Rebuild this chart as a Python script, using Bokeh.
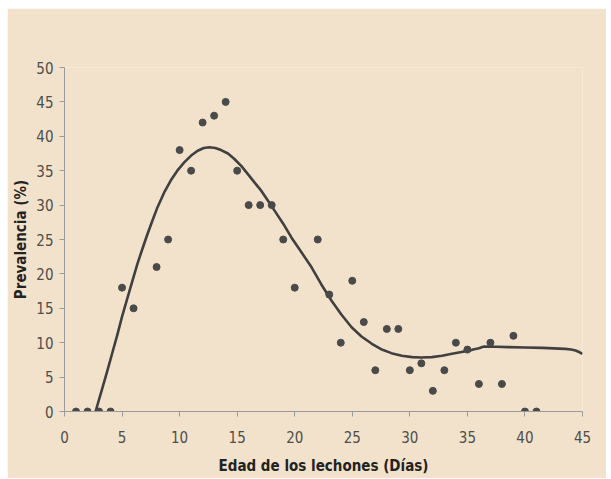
from bokeh.plotting import figure
from bokeh.embed import file_html
from bokeh.resources import INLINE
from bokeh.models import Range1d, FixedTicker

# Observed prevalence by piglet age
edad = [1, 2, 3, 4, 5, 6, 8, 9, 10, 11, 12, 13, 14, 15, 16, 17, 18, 19, 20,
        22, 23, 24, 25, 26, 27, 28, 29, 30, 31, 32, 33, 34, 35, 36, 37, 38, 39, 40, 41]
prevalencia = [0, 0, 0, 0, 18, 15, 21, 25, 38, 35, 42, 43, 45, 35, 30, 30, 30, 25, 18,
               25, 17, 10, 19, 13, 6, 12, 12, 6, 7, 3, 6, 10, 9, 4, 10, 4, 11, 0, 0]

# Trend curve
curva_x = [2.7, 3.2, 3.72, 4.15, 4.6, 5.0, 5.47, 5.9, 6.34, 6.8, 7.21, 7.65, 8.08, 8.65,
           9.24, 9.8, 10.4, 11.0, 11.57, 12.1, 12.58, 13.1, 13.6, 14.2, 14.76, 15.35,
           15.93, 16.5, 17.09, 17.65, 18.25, 19.0, 19.71, 20.6, 21.45, 22.3, 23.2, 24.05,
           24.94, 25.8, 26.7, 27.5, 28.4, 29.3, 30.2, 31.0, 31.9, 32.8, 33.66, 34.5,
           35.4, 36.0, 36.43, 37.5, 38.6, 40.0, 41.5, 42.5, 43.5, 44.0, 44.4, 44.7, 45.0]
curva_y = [0.0, 2.9, 5.9, 8.5, 11.2, 13.8, 16.5, 19.0, 21.5, 23.8, 25.8, 27.8, 29.7, 31.8,
           33.6, 35.0, 36.2, 37.2, 37.9, 38.3, 38.4, 38.3, 38.0, 37.5, 36.7, 35.7,
           34.5, 33.3, 32.1, 30.7, 29.2, 27.3, 25.3, 23.1, 21.0, 18.5, 16.1, 14.1,
           12.25, 10.9, 9.84, 9.05, 8.48, 8.1, 7.9, 7.85, 7.9, 8.1, 8.38, 8.65,
           8.96, 9.2, 9.45, 9.42, 9.35, 9.3, 9.25, 9.18, 9.1, 9.02, 8.87, 8.65, 8.38]

x_ticks = [0, 5, 10, 15, 20, 25, 30, 35, 40, 45]
y_ticks = [0, 5, 10, 15, 20, 25, 30, 35, 40, 45, 50]

BG = "#F2E2CC"
FONT = "Liberation Sans Narrow, DejaVu Sans Condensed, sans-serif"

p = figure(width=599, height=470, output_backend="svg", toolbar_location=None,
           x_range=Range1d(0, 45), y_range=Range1d(0, 50),
           min_border_left=57, min_border_right=24, min_border_top=59, min_border_bottom=67)
p.margin = (8, 5, 1, 7)
p.background_fill_color = BG
p.border_fill_color = BG
p.outline_line_color = None
p.grid.visible = False

p.line(curva_x, curva_y, line_color="#404040", line_width=2.6, line_join="round")
p.scatter(edad, prevalencia, size=7, fill_color="#4a4a4a", line_color="#4a4a4a")

for ax in (p.xaxis[0], p.yaxis[0]):
    ax.axis_line_color = "#9a9a9a"
    ax.major_tick_line_color = "#9a9a9a"
    ax.minor_tick_line_color = None
    ax.major_tick_in = 0
    ax.major_tick_out = 5
    ax.major_label_text_font = FONT
    ax.major_label_text_font_size = "15px"
    ax.major_label_text_color = "#4d4d4d"
    ax.axis_label_text_font = FONT
    ax.axis_label_text_font_size = "15px"
    ax.axis_label_text_font_style = "bold"
    ax.axis_label_text_color = "#222222"

p.xaxis.ticker = FixedTicker(ticks=x_ticks)
p.yaxis.ticker = FixedTicker(ticks=y_ticks)
p.xaxis.axis_label = "Edad de los lechones (Días)"
p.yaxis.axis_label = "Prevalencia (%)"
p.xaxis.major_label_standoff = 14
p.yaxis.major_label_standoff = 6
p.xaxis.axis_label_standoff = 11
p.yaxis.axis_label_standoff = 3

open("out.html", "w").write(file_html(p, INLINE))
